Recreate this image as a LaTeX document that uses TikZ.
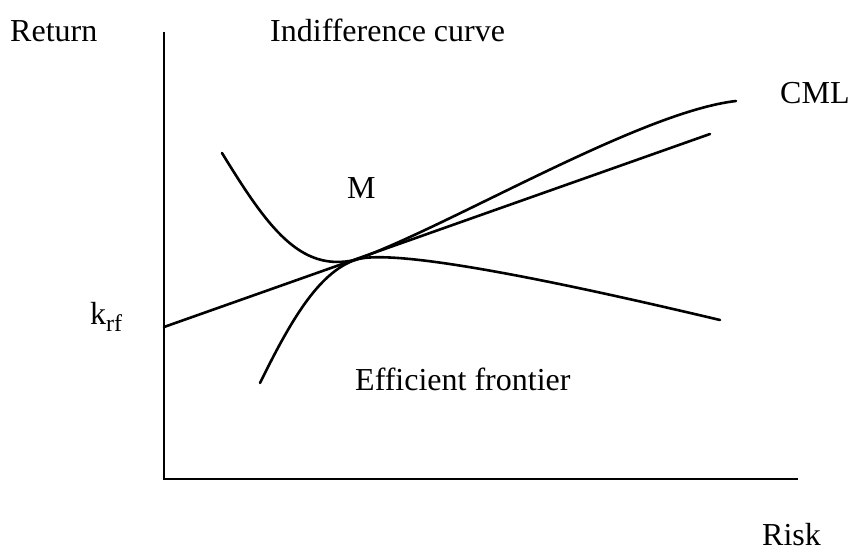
\documentclass[tikz,border=0pt]{standalone}
\usepackage{fontspec}
\setmainfont{Liberation Serif}
\begin{document}
\begin{tikzpicture}[x=1pt,y=-1pt,
  lbl/.style={anchor=base west,inner sep=0pt,font=\fontsize{32}{38}\selectfont},
  curve/.style={line width=2.6pt,line cap=round},
  axis/.style={line width=2.8pt}]
\useasboundingbox (0,0) rectangle (851,552);
% axes
\coordinate (ytop) at (164,32);
\coordinate (orig) at (164,479);
\coordinate (xend) at (798,479);
\draw[axis] (ytop) -- (orig) -- (xend);
% CML
\coordinate (krf) at (164,327);
\coordinate (cmlend) at (710,134);
\coordinate (Mpt) at (355,260);
\draw[curve] (krf) -- (cmlend);
% efficient frontier
\coordinate (efstart) at (260,383);
\coordinate (efend) at (736,101);
\draw[curve] (efstart) .. controls (290,322) and (318,273) .. (Mpt)
  .. controls (450,226) and (640,112) .. (efend);
% indifference curve
\coordinate (icstart) at (222,153);
\coordinate (icend) at (720,320);
\draw[curve] (icstart) .. controls (268,228) and (300,272) .. (Mpt)
  .. controls (392,247) and (560,282) .. (icend);
% labels
\node[lbl] (ret) at (10,41) {Return};
\node[lbl] (ic) at (270,41) {Indifference curve};
\node[lbl] (cml) at (780,103) {CML};
\node[lbl] (m) at (347,198) {M};
\node[lbl] (k) at (90,324) {k\raisebox{-0.22em}{\fontsize{24}{24}\selectfont rf}};
\node[lbl] (ef) at (355,390) {Efficient frontier};
\node[lbl] (risk) at (762,545) {Risk};
\end{tikzpicture}
\end{document}
